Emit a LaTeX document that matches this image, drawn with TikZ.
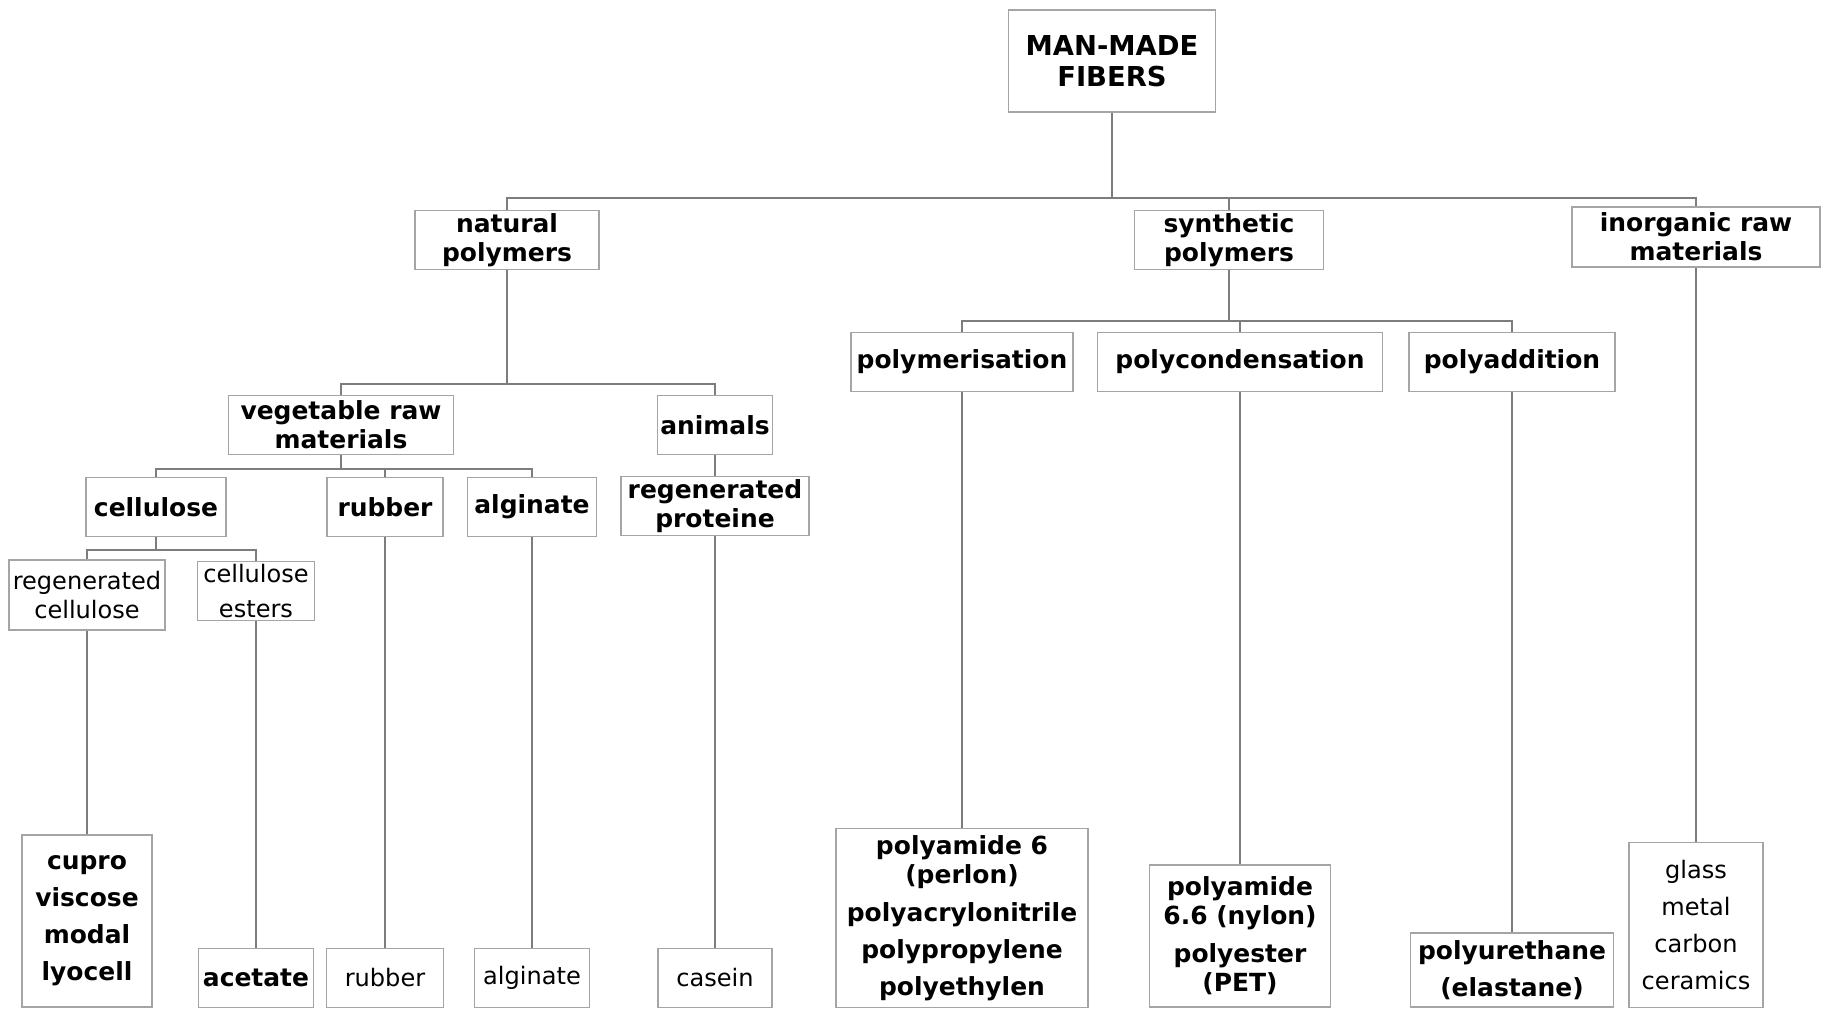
\documentclass[tikz,border=0pt]{standalone}
\usepackage{fontspec}
\setmainfont{DejaVu Sans}
\usepackage{tikz}

\definecolor{boxgray}{RGB}{165,165,165}
\definecolor{linegray}{RGB}{125,125,125}

\tikzset{
  fiber/.style={draw=boxgray, line width=0.85pt, fill=white, align=center, inner sep=0pt,
    font=\bfseries\fontsize{14.2}{16.5}\selectfont},
  fiberlight/.style={fiber, font=\fontsize{13.7}{16.5}\selectfont},
  link/.style={draw=linegray, line width=0.7pt},
}

\begin{document}
\begin{tikzpicture}[x=0.02cm, y=-0.02cm]

\useasboundingbox (0,0) rectangle (1826,1009);

% top levels
\node[fiber, minimum width=4.14cm, minimum height=2.04cm, font=\bfseries\fontsize{15.6}{17.6}\selectfont] (root) at (1112,61) {MAN-MADE\\FIBERS};
\node[fiber, minimum width=3.68cm, minimum height=1.18cm] (natural) at (507,240) {natural\\polymers};
\node[fiber, minimum width=3.78cm, minimum height=1.18cm] (synthetic) at (1229,240) {synthetic\\polymers};
\node[fiber, minimum width=4.96cm, minimum height=1.20cm] (inorganic) at (1696,237) {inorganic raw\\materials};

\node[fiber, minimum width=4.50cm, minimum height=1.18cm] (vegetable) at (341,425) {vegetable raw\\materials};
\node[fiber, minimum width=2.30cm, minimum height=1.18cm] (animals) at (715,425) {animals};

\node[fiber, minimum width=2.80cm, minimum height=1.18cm] (cellulose) at (156,507) {cellulose};
\node[fiber, minimum width=2.32cm, minimum height=1.18cm] (rubber) at (385,507) {rubber};
\node[fiber, minimum width=2.58cm, minimum height=1.18cm] (alginate) at (532,507) {alginate};
\node[fiber, minimum width=3.76cm, minimum height=1.18cm] (proteine) at (715,506) {regenerated\\proteine};

\node[fiberlight, minimum width=3.12cm, minimum height=1.40cm] (regcell) at (87,595) {regenerated\\cellulose};
\node[fiberlight, minimum width=2.34cm, minimum height=1.18cm] (esters) at (256,591) {cellulose\\[3pt]esters};

\node[fiber, minimum width=4.44cm, minimum height=1.18cm] (polymerisation) at (962,362) {polymerisation};
\node[fiber, minimum width=5.70cm, minimum height=1.18cm] (polycondensation) at (1240,362) {polycondensation};
\node[fiber, minimum width=4.12cm, minimum height=1.18cm] (polyaddition) at (1512,362) {polyaddition};

% fibers
\node[fiber, minimum width=2.60cm, minimum height=3.44cm] (cupro) at (87,921) {cupro\\[4.5pt]viscose\\[4.5pt]modal\\[4.5pt]lyocell};
\node[fiber, minimum width=2.30cm, minimum height=1.18cm] (acetate) at (256,978) {acetate};
\node[fiberlight, minimum width=2.34cm, minimum height=1.18cm] (rubberfib) at (385,978) {rubber};
\node[fiberlight, minimum width=2.30cm, minimum height=1.18cm] (alginatefib) at (532,978) {alginate};
\node[fiberlight, minimum width=2.28cm, minimum height=1.18cm] (casein) at (715,978) {casein};
\node[fiber, minimum width=5.04cm, minimum height=3.58cm] (pa6) at (962,918) {polyamide 6\\(perlon)\\[5pt]polyacrylonitrile\\[4.5pt]polypropylene\\[4.5pt]polyethylen};
\node[fiber, minimum width=3.62cm, minimum height=2.84cm] (pa66) at (1240,936) {polyamide\\6.6 (nylon)\\[5pt]polyester\\(PET)};
\node[fiber, minimum width=4.06cm, minimum height=1.48cm] (pu) at (1512,970) {polyurethane\\[4.5pt](elastane)};
\node[fiberlight, minimum width=2.68cm, minimum height=3.30cm] (glass) at (1696,925) {glass\\[4.5pt]metal\\[4.5pt]carbon\\[4.5pt]ceramics};

% connectors
\coordinate (bar1) at (1112,198);
\draw[link] (root) -- (bar1) -| (natural);
\draw[link] (bar1) -| (synthetic);
\draw[link] (bar1) -| (inorganic);

\coordinate (bar2) at (507,384);
\draw[link] (natural) -- (bar2) -| (vegetable);
\draw[link] (bar2) -| (animals);

\coordinate (bar3) at (341,469);
\draw[link] (vegetable) -- (bar3) -| (cellulose);
\draw[link] (bar3) -| (rubber);
\draw[link] (bar3) -| (alginate);
\draw[link] (animals) -- (proteine);

\coordinate (bar4) at (156,550);
\draw[link] (cellulose) -- (bar4) -| (regcell);
\draw[link] (bar4) -| (esters);

\coordinate (bar5) at (1229,321);
\draw[link] (synthetic) -- (bar5) -| (polymerisation);
\draw[link] (bar5) -| (polycondensation);
\draw[link] (bar5) -| (polyaddition);

\draw[link] (regcell) -- (cupro);
\draw[link] (esters) -- (acetate);
\draw[link] (rubber) -- (rubberfib);
\draw[link] (alginate) -- (alginatefib);
\draw[link] (proteine) -- (casein);
\draw[link] (polymerisation) -- (pa6);
\draw[link] (polycondensation) -- (pa66);
\draw[link] (polyaddition) -- (pu);
\draw[link] (inorganic) -- (glass);

\end{tikzpicture}
\end{document}
